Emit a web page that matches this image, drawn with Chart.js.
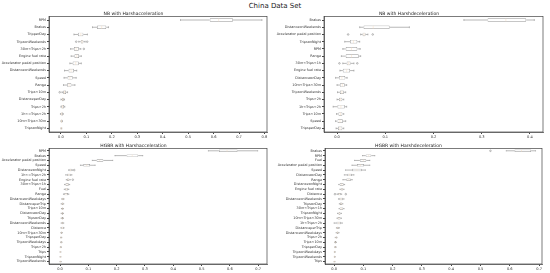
<!DOCTYPE html>
<html>
<head>
<meta charset="utf-8">
<script src="https://cdn.jsdelivr.net/npm/chart.js@4"></script>
<style>
body{margin:0;background:#fff;width:550px;height:273px;position:relative;overflow:hidden;font-family:"DejaVu Sans",sans-serif}
#title{position:absolute;left:0;top:0;width:550px;text-align:center;font-size:7px;line-height:12px;color:#222}
canvas{position:absolute}
</style>
</head>
<body>
<div id="title">China Data Set</div>
<canvas id="c1" width="270" height="132" style="left:0;top:9px;width:270px;height:132px"></canvas>
<canvas id="c2" width="275" height="132" style="left:275px;top:9px;width:275px;height:132px"></canvas>
<canvas id="c3" width="270" height="132" style="left:0;top:141px;width:270px;height:132px"></canvas>
<canvas id="c4" width="275" height="132" style="left:275px;top:141px;width:275px;height:132px"></canvas>
<script>
// NB with Harshacceleration
var nbAccLabels = ['RPM','Brakes','TripperDay','TripsonWeekends','30m<Trips<2h','Engine fuel rate','Accelerator pedal position','DistanceonWeekends','Speed','Range','Trips<10m','DistanceperDay','Trips>2h','1h<=Trips<2h','10m<Trips<30m','TripsonNight'];
var nbAccLo  = [0.47, 0.124, 0.051, 0.07, 0.038, 0.04, 0.035, 0.014, 0.012, 0.01, 0.004, 0.0, 0.0, -0.002, 0.0, 0.0];
var nbAccQ1  = [0.585, 0.142, 0.067, 0.078, 0.051, 0.053, 0.046, 0.03, 0.026, 0.024, 0.009, 0.004, 0.002, 0.0, 0.0, 0.0];
var nbAccMed = [0.62, 0.16, 0.078, 0.083, 0.06, 0.062, 0.058, 0.04, 0.035, 0.032, 0.014, 0.007, 0.006, 0.003, 0.002, 0.001];
var nbAccQ3  = [0.676, 0.178, 0.088, 0.088, 0.07, 0.071, 0.07, 0.051, 0.046, 0.041, 0.02, 0.011, 0.012, 0.007, 0.005, 0.002];
var nbAccHi  = [0.79, 0.187, 0.104, 0.095, 0.078, 0.08, 0.08, 0.062, 0.06, 0.055, 0.026, 0.014, 0.015, 0.009, 0.006, 0.003];
var nbAccOut = [[], [], [], [0.06, 0.103], [0.09], [], [], [], [], [], [-0.005], [], [], [], [], []];
var nbAccTicks = [0.0, 0.1, 0.2, 0.3, 0.4, 0.5, 0.6, 0.7, 0.8];

// NB with Harshdeceleration
var nbDecLabels = ['Brakes','DistanceonWeekends','Accelerator pedal position','TripsonNight','RPM','Range','30m<Trips<1h','Engine fuel rate','DistanceonDay','10m<Trips<30m','TripsonWeekends','Trips>2h','1h<Trips<2h','Trips<10m','Speed','TripsperDay'];
var nbDecLo  = [0.263, 0.047, 0.049, 0.016, 0.012, 0.009, 0.012, 0.006, -0.003, 0.0, 0.001, 0.0, -0.008, -0.001, -0.003, -0.002];
var nbDecQ1  = [0.312, 0.055, 0.053, 0.027, 0.018, 0.018, 0.02, 0.012, 0.004, 0.006, 0.006, 0.004, 0.001, 0.003, 0.0, 0.002];
var nbDecMed = [0.35, 0.075, 0.056, 0.034, 0.03, 0.03, 0.024, 0.02, 0.01, 0.011, 0.01, 0.007, 0.008, 0.007, 0.006, 0.006];
var nbDecQ3  = [0.392, 0.109, 0.059, 0.042, 0.042, 0.045, 0.028, 0.027, 0.017, 0.016, 0.014, 0.011, 0.016, 0.011, 0.012, 0.011];
var nbDecHi  = [0.409, 0.15, 0.064, 0.047, 0.048, 0.049, 0.035, 0.035, 0.021, 0.02, 0.018, 0.014, 0.02, 0.014, 0.018, 0.014];
var nbDecOut = [[], [], [0.023, 0.074], [], [], [], [0.005, 0.042], [], [], [], [], [], [], [], [], []];
var nbDecTicks = [0.0, 0.1, 0.2, 0.3, 0.4];

// HGBR with Harshacceleration
var hgAccLabels = ['RPM','Brakes','Accelerator pedal position','Speed','DistanceonNight','1h<=Trips<2h','Engine fuel rate','30m<Trips<1h','Fuel','Range','DistanceonWeekdays','DistanceperTrip','Trips<10m','DistanceonDay','TripsonDay','DistanceonWeekends','Distance','10m<Trips<30m','TripsperDay','TripsonWeekdays','Trips>2h','Trips','TripsonNight','TripsonWeekends'];
var hgAccLo  = [0.524, 0.194, 0.114, 0.072, 0.03, 0.02, 0.022, 0.016, 0.015, 0.012, 0.006, 0.004, 0.005, 0.004, 0.004, 0.004, 0.003, 0.003, 0.002, 0.002, 0.001, 0.0, 0.0, 0.0];
var hgAccQ1  = [0.561, 0.235, 0.129, 0.082, 0.033, 0.024, 0.025, 0.019, 0.018, 0.015, 0.008, 0.006, 0.007, 0.006, 0.006, 0.006, 0.005, 0.004, 0.002, 0.002, 0.001, 0.0, 0.0, 0.0];
var hgAccMed = [0.59, 0.255, 0.14, 0.094, 0.037, 0.031, 0.029, 0.025, 0.023, 0.021, 0.01, 0.009, 0.009, 0.008, 0.008, 0.008, 0.008, 0.005, 0.003, 0.004, 0.002, 0.001, 0.001, 0.001];
var hgAccQ3  = [0.627, 0.276, 0.153, 0.106, 0.041, 0.038, 0.033, 0.031, 0.028, 0.028, 0.013, 0.012, 0.011, 0.011, 0.011, 0.012, 0.013, 0.007, 0.005, 0.006, 0.004, 0.002, 0.002, 0.003];
var hgAccHi  = [0.698, 0.292, 0.186, 0.124, 0.044, 0.042, 0.036, 0.034, 0.031, 0.031, 0.014, 0.013, 0.012, 0.012, 0.012, 0.013, 0.014, 0.008, 0.006, 0.007, 0.005, 0.003, 0.003, 0.004];
var hgAccOut = [[], [], [], [], [0.05], [], [0.045], [], [], [], [], [], [], [], [], [], [], [], [], [], [], [], [], []];
var hgAccTicks = [0.0, 0.1, 0.2, 0.3, 0.4, 0.5, 0.6, 0.7];

// HGBR with Harshdeceleration
var hgDecLabels = ['Brakes','RPM','Fuel','Accelerator pedal position','Speed','DistanceonDay','Range','DistanceonNight','Engine fuel rate','Distance','DistanceonWeekends','TripsonDay','30m<Trips<1h','TripsonNight','10m<Trips<30m','1h<Trips<2h','DistanceperTrip','DistanceonWeekdays','Trips>2h','Trips<10m','TripsperDay','TripsonWeekdays','TripsonWeekends','Trips'];
var hgDecLo  = [0.588, 0.097, 0.07, 0.061, 0.039, 0.035, 0.03, 0.016, 0.02, 0.01, 0.015, 0.018, 0.017, 0.012, 0.01, 0.0, 0.008, 0.007, 0.004, 0.002, 0.002, 0.001, 0.001, 0.0];
var hgDecQ1  = [0.616, 0.108, 0.088, 0.078, 0.061, 0.045, 0.042, 0.019, 0.023, 0.014, 0.018, 0.02, 0.019, 0.015, 0.012, 0.008, 0.01, 0.009, 0.006, 0.002, 0.002, 0.001, 0.001, 0.0];
var hgDecMed = [0.64, 0.118, 0.1, 0.09, 0.078, 0.053, 0.05, 0.026, 0.027, 0.018, 0.024, 0.024, 0.025, 0.018, 0.016, 0.016, 0.012, 0.011, 0.007, 0.004, 0.004, 0.002, 0.002, 0.001];
var hgDecQ3  = [0.673, 0.127, 0.11, 0.102, 0.095, 0.061, 0.057, 0.033, 0.031, 0.023, 0.031, 0.028, 0.031, 0.022, 0.022, 0.024, 0.016, 0.015, 0.009, 0.007, 0.006, 0.003, 0.003, 0.002];
var hgDecHi  = [0.688, 0.139, 0.122, 0.122, 0.107, 0.068, 0.062, 0.036, 0.034, 0.026, 0.034, 0.03, 0.034, 0.025, 0.025, 0.028, 0.018, 0.017, 0.01, 0.008, 0.007, 0.004, 0.004, 0.003];
var hgDecOut = [[0.534], [], [], [], [], [], [], [], [], [0.003, 0.04], [], [], [], [], [], [], [], [], [], [], [], [], [], []];
var hgDecTicks = [0.0, 0.1, 0.2, 0.3, 0.4, 0.5, 0.6, 0.7];

var boxExtras = {
  id: 'boxExtras',
  afterDatasetsDraw: function(chart) {
    var st = chart.options.plugins.boxExtras;
    var ctx = chart.ctx;
    var xs = chart.scales.x;
    var meta = chart.getDatasetMeta(0);
    ctx.save();
    for (var i = 0; i < st.lo.length; i++) {
      var y = meta.data[i].y;
      var h = meta.data[i].height / 2;
      var xl = xs.getPixelForValue(st.lo[i]);
      var x1 = xs.getPixelForValue(st.q1[i]);
      var x3 = xs.getPixelForValue(st.q3[i]);
      var xh = xs.getPixelForValue(st.hi[i]);
      ctx.strokeStyle = '#9a9a9a';
      ctx.lineWidth = 0.7;
      ctx.beginPath();
      ctx.moveTo(xl, y); ctx.lineTo(x1, y);
      ctx.moveTo(x3, y); ctx.lineTo(xh, y);
      ctx.moveTo(xl, y - h / 2); ctx.lineTo(xl, y + h / 2);
      ctx.moveTo(xh, y - h / 2); ctx.lineTo(xh, y + h / 2);
      ctx.stroke();
      var xm = xs.getPixelForValue(st.med[i]);
      ctx.strokeStyle = '#f6dcc0';
      ctx.lineWidth = 0.5;
      ctx.beginPath();
      ctx.moveTo(xm, y - h + 0.4); ctx.lineTo(xm, y + h - 0.4);
      ctx.stroke();
      ctx.strokeStyle = '#9a9a9a';
      ctx.lineWidth = 0.7;
      st.out[i].forEach(function(v) {
        ctx.beginPath();
        ctx.arc(xs.getPixelForValue(v), y, 0.8, 0, Math.PI * 2);
        ctx.stroke();
      });
    }
    var a = chart.chartArea;
    ctx.strokeStyle = '#444';
    ctx.lineWidth = 0.7;
    ctx.strokeRect(a.left, a.top, a.right - a.left, a.bottom - a.top);
    ctx.restore();
  }
};

function boxChart(id, title, labels, lo, q1, med, q3, hi, out, ticks, xmin, xmax, yWidth, padRight) {
  var ctx = document.getElementById(id).getContext('2d');
  return new Chart(ctx, {
    type: 'bar',
    data: {
      labels: labels,
      datasets: [{
        data: q1.map(function(v, i) { return [v, q3[i]]; }),
        backgroundColor: '#ffffff',
        borderColor: '#9a9a9a',
        borderWidth: 0.7,
        borderSkipped: false,
        barPercentage: 0.5,
        categoryPercentage: 1
      }]
    },
    options: {
      indexAxis: 'y',
      responsive: false,
      animation: false,
      devicePixelRatio: 1,
      layout: { padding: { left: 0, right: padRight, top: 0, bottom: 0 } },
      plugins: {
        legend: { display: false },
        tooltip: { enabled: false },
        title: {
          display: true,
          text: title,
          color: '#222',
          font: { size: 4.5, family: 'DejaVu Sans', weight: 'normal' },
          padding: { top: 2, bottom: 0 }
        },
        boxExtras: { lo: lo, q1: q1, med: med, q3: q3, hi: hi, out: out }
      },
      scales: {
        x: {
          type: 'linear',
          min: xmin,
          max: xmax,
          afterBuildTicks: function(s) { s.ticks = ticks.map(function(v) { return { value: v }; }); },
          afterFit: function(s) { s.height = 9; },
          grid: { drawOnChartArea: false, tickLength: 2, color: '#444' },
          border: { color: '#444', width: 0.7 },
          ticks: {
            color: '#333',
            padding: 1,
            maxRotation: 0,
            font: { size: 3.6, family: 'DejaVu Sans' },
            callback: function(v) { return Number(v).toFixed(1); }
          }
        },
        y: {
          afterFit: function(s) { s.width = yWidth; },
          grid: { drawOnChartArea: false, tickLength: 2, color: '#444', offset: false },
          border: { color: '#444', width: 0.7 },
          ticks: {
            color: '#333',
            padding: 1,
            autoSkip: false,
            font: { size: 3.4, family: 'DejaVu Sans' }
          }
        }
      }
    },
    plugins: [boxExtras]
  });
}

boxChart('c1', 'NB with Harshacceleration', nbAccLabels, nbAccLo, nbAccQ1, nbAccMed, nbAccQ3, nbAccHi, nbAccOut, nbAccTicks, -0.047, 0.81, 49, 3);
boxChart('c2', 'NB with Harshdeceleration', nbDecLabels, nbDecLo, nbDecQ1, nbDecMed, nbDecQ3, nbDecHi, nbDecOut, nbDecTicks, -0.027, 0.427, 49, 7);
boxChart('c3', 'HGBR with Harshacceleration', hgAccLabels, hgAccLo, hgAccQ1, hgAccMed, hgAccQ3, hgAccHi, hgAccOut, hgAccTicks, -0.039, 0.731, 49, 3);
boxChart('c4', 'HGBR with Harshdeceleration', hgDecLabels, hgDecLo, hgDecQ1, hgDecMed, hgDecQ3, hgDecHi, hgDecOut, hgDecTicks, -0.031, 0.71, 50, 8);
</script>
</body>
</html>
